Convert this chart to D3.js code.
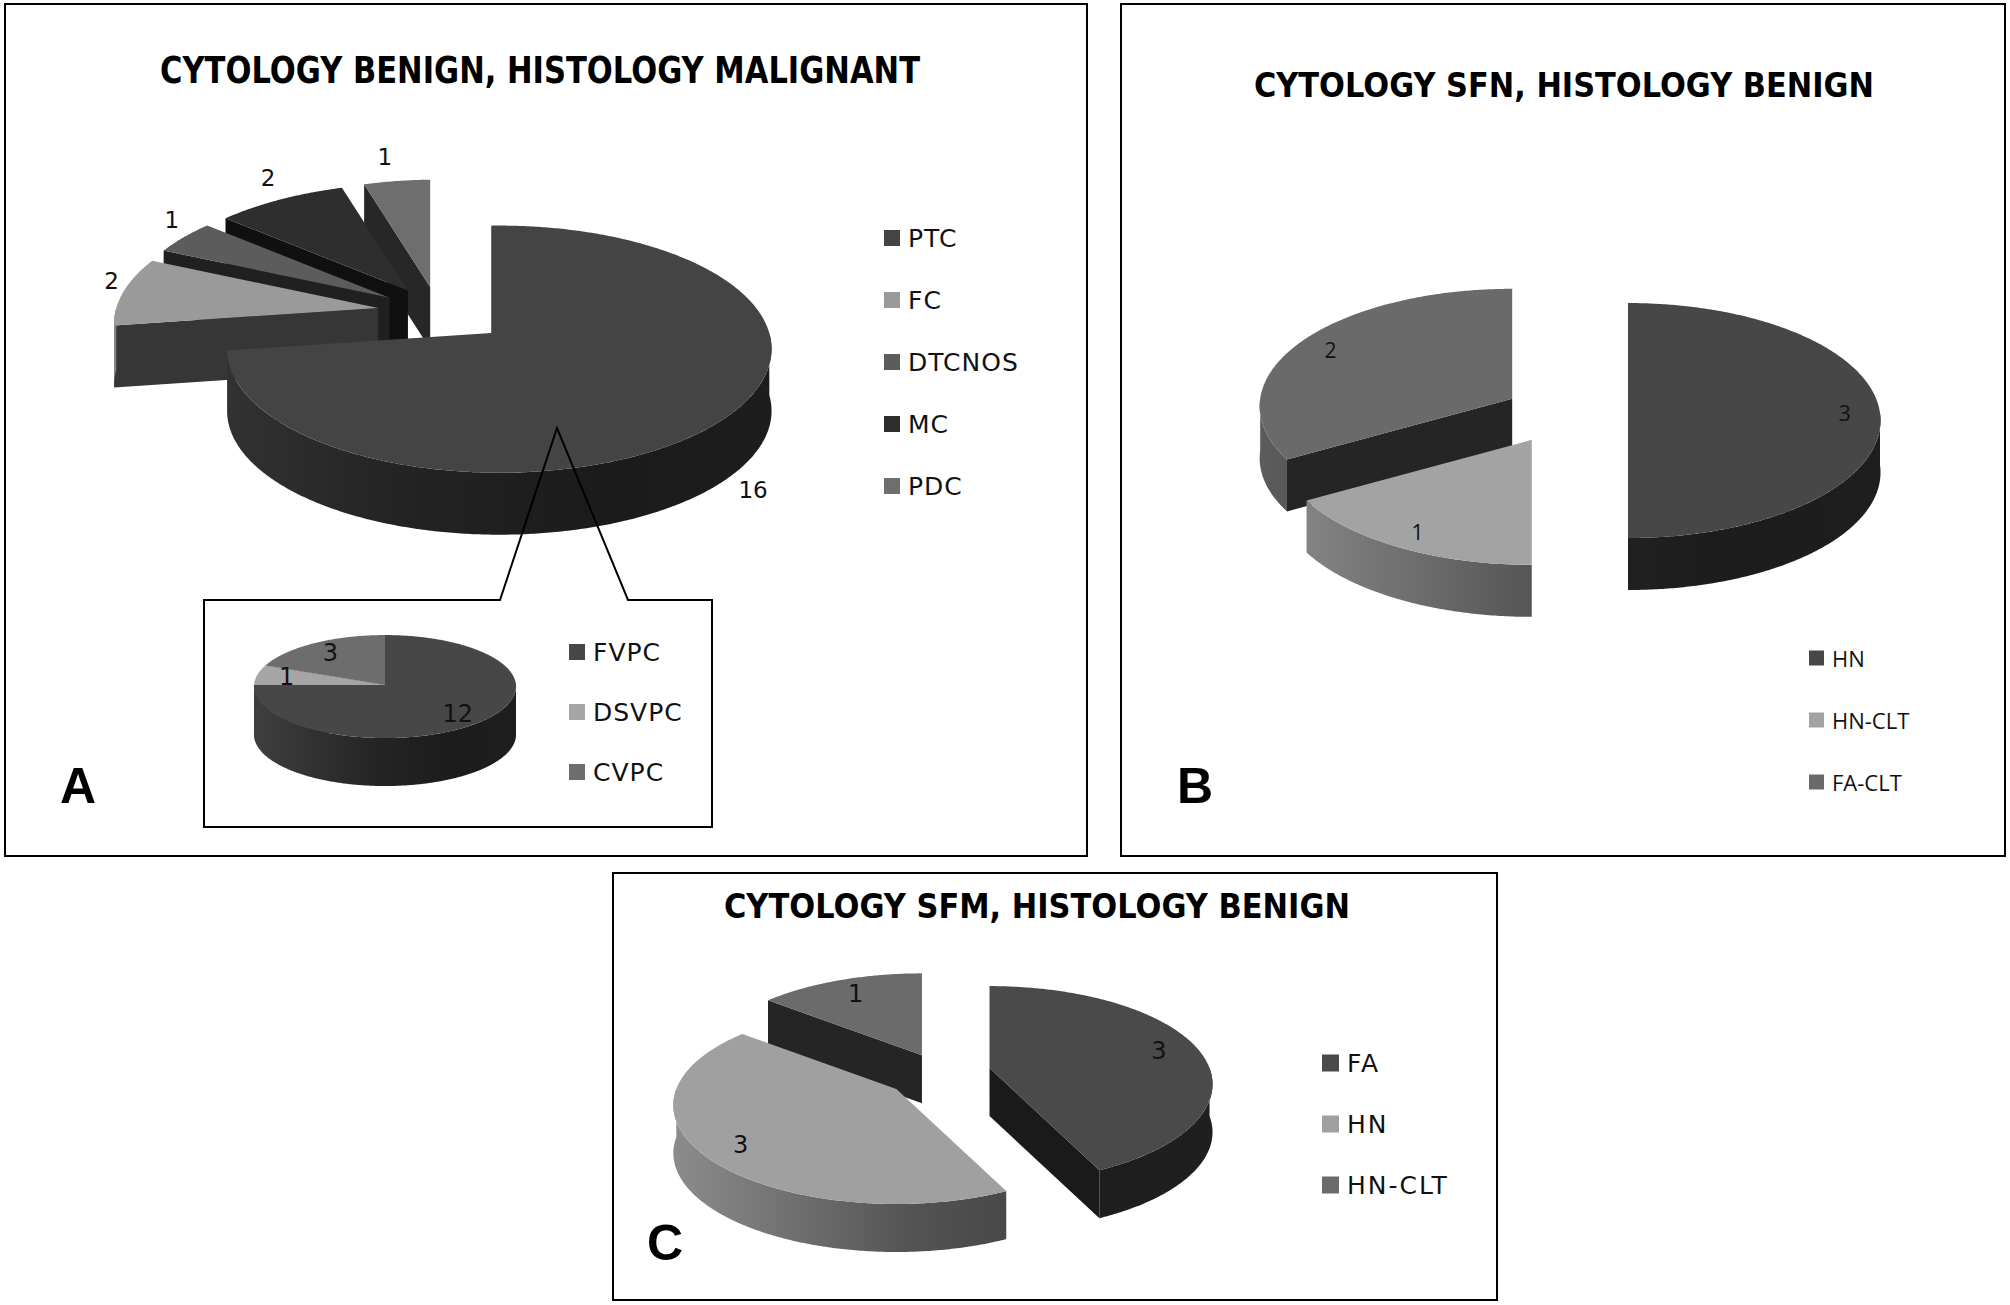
<!DOCTYPE html>
<html>
<head>
<meta charset="utf-8">
<script src="https://cdnjs.cloudflare.com/ajax/libs/d3/7.8.5/d3.min.js"></script>
<style>
  body { margin: 0; background: #fff; }
  svg { display: block; }
</style>
</head>
<body>
<svg id="chart" width="2010" height="1305"></svg>
<script>
// A: cytology benign, histology malignant
const catsA = ["PTC", "FC", "DTCNOS", "MC", "PDC"];
const valsA = [16, 2, 1, 2, 1];
// A inset: PTC subtypes
const catsA2 = ["FVPC", "DSVPC", "CVPC"];
const valsA2 = [12, 1, 3];
// B: cytology SFN, histology benign
const catsB = ["HN", "HN-CLT", "FA-CLT"];
const valsB = [3, 1, 2];
// C: cytology SFM, histology benign
const catsC = ["FA", "HN", "HN-CLT"];
const valsC = [3, 3, 1];

const titleA = "CYTOLOGY BENIGN, HISTOLOGY MALIGNANT";
const titleB = "CYTOLOGY SFN, HISTOLOGY BENIGN";
const titleC = "CYTOLOGY SFM, HISTOLOGY BENIGN";

// grey shades per slice
const greysA = ["#444444", "#9a9a9a", "#5c5c5c", "#2e2e2e", "#6e6e6e"];
const greysA2 = ["#474747", "#a5a5a5", "#6d6d6d"];
const greysB = ["#474747", "#a3a3a3", "#6a6a6a"];
const greysC = ["#4a4a4a", "#a0a0a0", "#6b6b6b"];

const svg = d3.select("#chart");
const defs = svg.append("defs");
let gradId = 0;

function wallGradient(base, x0, x1) {
    const id = "wall" + (gradId++);
    const mix = d3.interpolateRgb(base, "#000");
    const lg = defs.append("linearGradient").attr("id", id)
        .attr("gradientUnits", "userSpaceOnUse")
        .attr("x1", x0).attr("x2", x1).attr("y1", 0).attr("y2", 0);
    [[0, 0.12], [0.45, 0.48], [0.75, 0.6], [1, 0.58]].forEach(([t, k]) =>
        lg.append("stop").attr("offset", t).attr("stop-color", mix(k)));
    return `url(#${id})`;
}

// pseudo 3D pie: angles clockwise from 12 o'clock
// p shrinks the back half, q makes the right side a bit larger than the left (camera skew)
function pie3d(g, cfg) {
    const { cats, vals, colors, cx, cy, rx, ry, p, q, depth, explode } = cfg;
    const color = d3.scaleOrdinal().domain(cats).range(colors);
    const arcs = d3.pie().sort(null).value(d => d.v)(cats.map((c, i) => ({ c, v: vals[i] })));
    const pt = (o, a, r = 1, dz = 0) => {
        const k = r * (1 - p * Math.cos(a)) * (1 + q * Math.sin(a));
        return [o[0] + rx * k * Math.sin(a), o[1] - ry * k * Math.cos(a) + dz];
    };
    const line = d3.line();
    const ring = (o, a0, a1, dz) => {
        const n = Math.max(2, Math.ceil((a1 - a0) / 0.01));
        return d3.range(n + 1).map(i => pt(o, a0 + (a1 - a0) * i / n, 1, dz));
    };
    arcs.forEach(d => {
        d.mid = (d.startAngle + d.endAngle) / 2;
        d.o = pt([cx, cy], d.mid, explode);
        d.z = pt(d.o, d.mid, 0.5)[1];
    });
    const gx0 = cx - rx * (1 + explode), gx1 = cx + rx * (1 + explode);

    arcs.slice().sort((a, b) => a.z - b.z).forEach(d => {
        const base = color(d.data.c);
        const sg = g.append("g").attr("class", "slice");
        const o = d.o;
        const cut = d3.interpolateRgb(base, "#000")(0.65);
        // radial cut faces facing the viewer
        [[d.startAngle, Math.sin(d.startAngle) < -1e-6], [d.endAngle, Math.sin(d.endAngle) > 1e-6]]
            .forEach(([a, vis]) => {
                if (!vis) return;
                const e = pt(o, a);
                sg.append("path")
                    .attr("d", line([o, e, [e[0], e[1] + depth], [o[0], o[1] + depth]]) + "Z")
                    .attr("fill", cut);
            });
        // outer wall, front half only
        const w0 = Math.max(d.startAngle, Math.PI / 2), w1 = Math.min(d.endAngle, 3 * Math.PI / 2);
        if (w1 > w0) {
            const pts = ring(o, w0, w1, 0).concat(ring(o, w0, w1, depth).reverse());
            sg.append("path").attr("d", line(pts) + "Z").attr("fill", wallGradient(base, gx0, gx1));
        }
        // top face
        sg.append("path")
            .attr("d", line([o].concat(ring(o, d.startAngle, d.endAngle, 0))) + "Z")
            .attr("fill", base);
    });
    return { arcs, pt };
}

function dataLabels(g, res, cfg, font) {
    const t = g.selectAll(null).data(res.arcs).join("text")
        .attr("text-anchor", "middle")
        .attr("dominant-baseline", "central")
        .style("font-family", font.family)
        .style("font-size", font.size + "px")
        .attr("fill", "#111")
        .text(d => d.data.v);
    if (cfg.labelMode === "outside") {
        // outside end: just past the rim, below the wall for front slices
        t.attr("x", d => {
            const s = Math.sin(d.mid), front = Math.cos(d.mid) < 0;
            const e = res.pt(d.o, d.mid);
            return e[0] + (front ? s * cfg.depth * 0.5 : 0) + Math.sign(s) * 12;
        }).attr("y", d => {
            const front = Math.cos(d.mid) < 0;
            const e = res.pt(d.o, d.mid);
            return d.o[1] + (e[1] - d.o[1]) * 1.15 + (front ? cfg.depth : 0) - 8;
        });
    } else {
        t.attr("x", d => res.pt(d.o, d.mid, cfg.labelMode)[0])
         .attr("y", d => res.pt(d.o, d.mid, cfg.labelMode)[1]);
    }
}

function legend(g, cats, colors, x, y0, dy, font) {
    const y = d3.scalePoint().domain(cats).range([y0, y0 + dy * (cats.length - 1)]);
    const item = g.selectAll(null).data(cats).join("g")
        .attr("transform", d => `translate(${x},${y(d)})`);
    item.append("rect").attr("x", 0).attr("y", -font.box / 2)
        .attr("width", font.box).attr("height", font.box)
        .attr("fill", (d, i) => colors[i]);
    item.append("text").attr("x", font.box + 8).attr("dominant-baseline", "central")
        .style("font-family", font.family).style("font-size", font.size + "px")
        .style("letter-spacing", font.spacing + "px")
        .attr("fill", "#111").text(d => d);
}

function title(g, txt, x, y, size, len) {
    g.append("text").attr("x", x).attr("y", y)
        .attr("textLength", len).attr("lengthAdjust", "spacingAndGlyphs")
        .style("font-family", "DejaVu Sans").style("font-weight", "bold")
        .style("font-size", size + "px").attr("fill", "#000").text(txt);
}

function panelLetter(g, txt, x, y) {
    g.append("text").attr("x", x).attr("y", y)
        .style("font-family", "Liberation Sans").style("font-weight", "bold")
        .style("font-size", "50px").attr("fill", "#000").text(txt);
}

function frame(g, x, y, w, h) {
    g.append("rect").attr("x", x).attr("y", y).attr("width", w).attr("height", h)
        .attr("fill", "none").attr("stroke", "#000").attr("stroke-width", 2);
}

// ---------- panel A ----------
const gA = svg.append("g");
frame(gA, 5, 4, 1082, 852);
title(gA, titleA, 160, 83, 37, 760);
const cfgA = { cats: catsA, vals: valsA, colors: greysA, cx: 438, cy: 312, rx: 270, ry: 123.5,
    p: 0.13, q: 0.03, depth: 62, explode: 0.235, labelMode: "outside" };
const resA = pie3d(gA.append("g"), cfgA);
dataLabels(gA, resA, cfgA, { family: "DejaVu Sans", size: 23 });
legend(gA, catsA, greysA, 884, 238, 62, { family: "DejaVu Sans", size: 25, spacing: 1, box: 16 });

const cfgA2 = { cats: catsA2, vals: valsA2, colors: greysA2, cx: 385, cy: 685, rx: 131, ry: 51.5,
    p: 0.03, q: 0, depth: 48, explode: 0, labelMode: 0.77 };
const resA2 = pie3d(gA.append("g"), cfgA2);
dataLabels(gA, resA2, cfgA2, { family: "DejaVu Sans", size: 24 });
legend(gA, catsA2, greysA2, 569, 652, 60, { family: "DejaVu Sans", size: 25, spacing: 1, box: 16 });

// callout box from the PTC slice to the inset
gA.append("path")
    .attr("d", d3.line()([[557, 428], [500, 600], [204, 600], [204, 827], [712, 827], [712, 600], [628, 600]]) + "Z")
    .attr("fill", "none").attr("stroke", "#000").attr("stroke-width", 2);
panelLetter(gA, "A", 60, 803);

// ---------- panel B ----------
const gB = svg.append("g");
frame(gB, 1121, 4, 884, 852);
title(gB, titleB, 1254, 97, 33, 620);
const cfgB = { cats: catsB, vals: valsB, colors: greysB, cx: 1565, cy: 413, rx: 252, ry: 117.5,
    p: 0.064, q: 0, depth: 52, explode: 0.25, labelMode: 0.86 };
const resB = pie3d(gB.append("g"), cfgB);
dataLabels(gB, resB, cfgB, { family: "Open Sans", size: 21 });
legend(gB, catsB, greysB, 1809, 658, 62, { family: "Open Sans", size: 22, spacing: 0, box: 15 });
panelLetter(gB, "B", 1177, 803);

// ---------- panel C ----------
const gC = svg.append("g");
frame(gC, 613, 873, 884, 427);
title(gC, titleC, 724, 918, 33, 626);
const cfgC = { cats: catsC, vals: valsC, colors: greysC, cx: 941, cy: 1073, rx: 220, ry: 98.5,
    p: 0.168, q: 0, depth: 48, explode: 0.235, labelMode: 0.82 };
const resC = pie3d(gC.append("g"), cfgC);
dataLabels(gC, resC, cfgC, { family: "DejaVu Sans", size: 24 });
legend(gC, catsC, greysC, 1322, 1063, 61, { family: "DejaVu Sans", size: 25, spacing: 2, box: 17 });
panelLetter(gC, "C", 647, 1260);
</script>
</body>
</html>
